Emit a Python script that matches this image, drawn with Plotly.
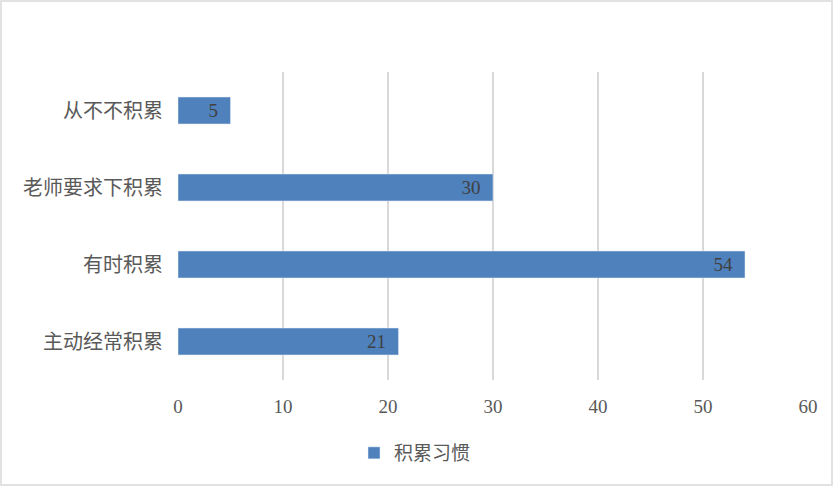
import plotly.graph_objects as go

categories = ["主动经常积累", "有时积累", "老师要求下积累", "从不不积累"]
values = [21, 54, 30, 5]
series_name = "积累习惯"
x_ticks = [0, 10, 20, 30, 40, 50, 60]

W, H = 833, 486
L, R, T, B = 178, 25, 72, 106
pw, ph = W - L - R, H - T - B

num_font = "Liberation Serif, Noto Sans CJK SC"
cjk_font = "Noto Sans CJK SC"

fig = go.Figure()
fig.add_trace(go.Bar(
    y=categories,
    x=values,
    orientation="h",
    name=series_name,
    marker=dict(color="#4f81bd"),
    texttemplate="%{x}\u00a0\u00a0",
    textposition="inside",
    insidetextanchor="end",
    textangle=0,
    textfont=dict(family=num_font, size=19, color="#404040"),
    showlegend=True,
))

fig.update_layout(
    width=W,
    height=H,
    margin=dict(l=L, r=R, t=T, b=B),
    plot_bgcolor="white",
    paper_bgcolor="white",
    bargap=0.65,
    font=dict(family=cjk_font, color="#595959"),
    xaxis=dict(
        range=[0, 60],
        tickvals=x_ticks,
        showgrid=True,
        gridcolor="#d9d9d9",
        gridwidth=1.5,
        zeroline=False,
        showline=False,
        ticks="",
        tickfont=dict(family=num_font, size=19, color="#595959"),
        ticklabelstandoff=13,
        automargin=False,
    ),
    yaxis=dict(
        showgrid=False,
        zeroline=False,
        showline=False,
        ticks="",
        tickfont=dict(family=cjk_font, size=20, color="#595959"),
        ticklabelstandoff=14,
        automargin=False,
    ),
    legend=dict(
        orientation="h",
        x=(415 - L) / pw,
        xanchor="center",
        y=-(453 - (T + ph)) / ph,
        yanchor="middle",
        font=dict(family=cjk_font, size=19, color="#595959"),
    ),
    uniformtext=dict(mode="show", minsize=19),
)

# light grey border around the whole chart
fig.add_shape(
    type="rect",
    xref="paper", yref="paper",
    x0=-(L - 1) / pw, x1=1 + (R - 1) / pw,
    y0=-(B - 1) / ph, y1=1 + (T - 1) / ph,
    line=dict(color="#d9d9d9", width=1.5),
    fillcolor="rgba(0,0,0,0)",
    layer="below",
)

fig.write_html(
    "out.html",
    config={"displayModeBar": False},
    post_script="document.body.style.margin='0px';",
)
